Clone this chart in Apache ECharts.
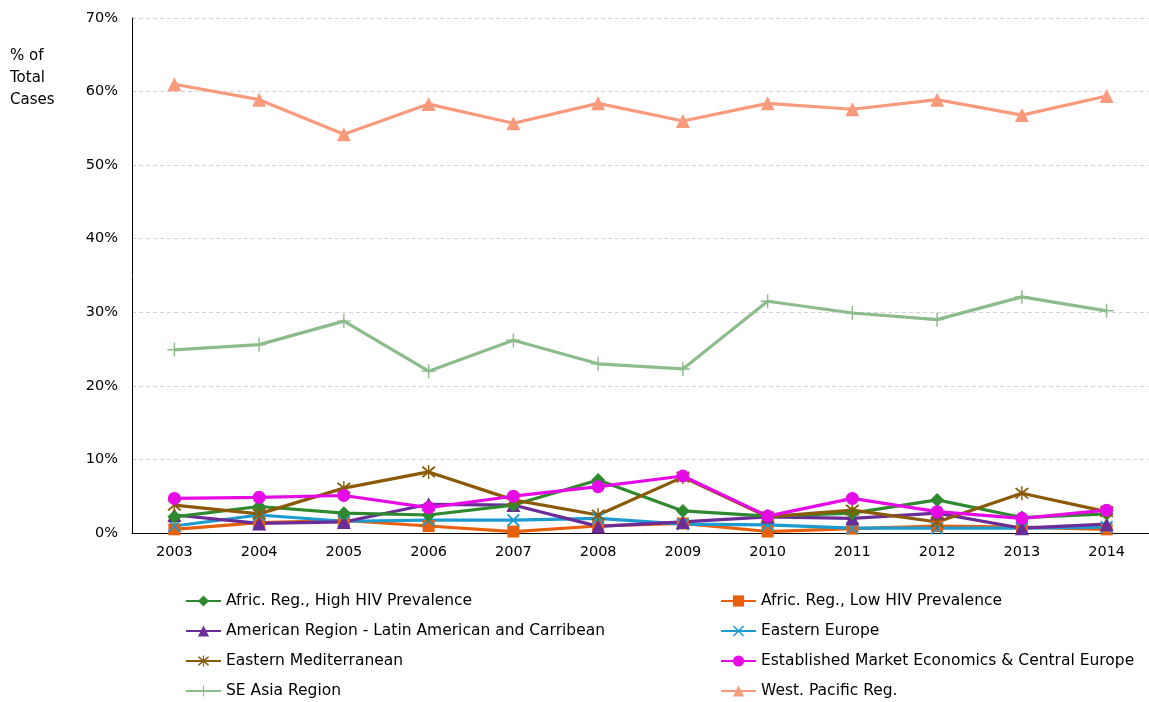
<!DOCTYPE html>
<html>
<head>
<meta charset="utf-8">
<script src="https://cdn.jsdelivr.net/npm/echarts@6/dist/echarts.min.js"></script>
<style>
  html, body { margin: 0; padding: 0; background: #fff; }
  #chart { width: 1149px; height: 702px; }
</style>
</head>
<body>
<div id="chart"></div>
<script>
// Share of total cases by WHO region, 2003-2014 (percent)
const years = ['2003','2004','2005','2006','2007','2008','2009','2010','2011','2012','2013','2014'];

const africHigh   = [2.2, 3.6, 2.7, 2.45, 3.8, 7.2, 3.0, 2.3, 2.7, 4.5, 2.1, 2.6];
const africLow    = [0.5, 1.4, 1.7, 0.95, 0.2, 0.95, 1.3, 0.2, 0.6, 0.95, 0.8, 0.5];
const americas    = [2.45, 1.3, 1.5, 3.9, 3.8, 0.9, 1.5, 2.2, 2.0, 2.7, 0.65, 1.2];
const eastEurope  = [0.95, 2.45, 1.6, 1.75, 1.75, 2.0, 1.2, 1.1, 0.65, 0.65, 0.65, 0.8];
const eastMed     = [3.8, 2.6, 6.1, 8.3, 4.5, 2.45, 7.6, 2.2, 3.1, 1.5, 5.4, 2.9];
const established = [4.7, 4.85, 5.1, 3.45, 5.0, 6.3, 7.75, 2.3, 4.7, 2.9, 2.0, 3.1];
const seAsia      = [24.9, 25.6, 28.8, 22.0, 26.2, 23.0, 22.3, 31.5, 29.9, 29.0, 32.1, 30.2];
const westPacific = [61.0, 58.9, 54.2, 58.3, 55.7, 58.4, 56.0, 58.4, 57.6, 58.9, 56.8, 59.4];

const yTicks = { min: 0, max: 70, interval: 10 };

// marker shapes drawn as filled outlines
const xMark = 'path://M0,1 L1,0 L5,4 L9,0 L10,1 L6,5 L10,9 L9,10 L5,6 L1,10 L0,9 L4,5 Z';
const starMark = 'path://M0,1 L1,0 L5,4 L9,0 L10,1 L6,5 L10,9 L9,10 L5,6 L1,10 L0,9 L4,5 Z M4.5,-1 L5.5,-1 L5.5,11 L4.5,11 Z';
const plusMark = 'path://M4.5,0 H5.5 V4.5 H10 V5.5 H5.5 V10 H4.5 V5.5 H0 V4.5 H4.5 Z';

const FONT = 'DejaVu Sans, Liberation Sans, Arial, sans-serif';

function line(name, data, color, symbol, size) {
  return {
    name, type: 'line', data,
    symbol, symbolSize: size,
    showAllSymbol: true,
    lineStyle: { color, width: 3.2 },
    itemStyle: { color },
    emphasis: { disabled: true },
    animation: false
  };
}

const series = [
  line('West. Pacific Reg.', westPacific, '#fa9a7c', 'triangle', 14),
  line('SE Asia Region', seAsia, '#8cbc8c', plusMark, 14),
  line('Afric. Reg., Low HIV Prevalence', africLow, '#e8600c', 'rect', 12),
  line('Eastern Europe', eastEurope, '#1c9bd0', xMark, 13),
  line('American Region - Latin American and Carribean', americas, '#6a2c96', 'triangle', 14),
  line('Afric. Reg., High HIV Prevalence', africHigh, '#2f8a2f', 'diamond', 14),
  line('Eastern Mediterranean', eastMed, '#8a5a06', starMark, 14),
  line('Established Market Economics & Central Europe', established, '#e60be6', 'circle', 13)
];

const legendText = { fontFamily: FONT, fontSize: 15.5, color: '#000', lineHeight: 14 };
const legendBase = {
  orient: 'vertical', top: 588, height: 120, itemGap: 14,
  itemWidth: 35, itemHeight: 14, textStyle: legendText
};

const chart = echarts.init(document.getElementById('chart'), null, { renderer: 'canvas' });
chart.setOption({
  animation: false,
  backgroundColor: '#fff',
  grid: { left: 132, right: -6, top: 18, bottom: 169, containLabel: false },
  xAxis: {
    type: 'category', data: years, boundaryGap: true,
    axisLine: { lineStyle: { color: '#000', width: 1 } },
    axisTick: { show: false },
    axisLabel: { fontFamily: FONT, fontSize: 14.5, color: '#000', margin: 12 }
  },
  yAxis: {
    type: 'value', min: yTicks.min, max: yTicks.max, interval: yTicks.interval,
    axisLine: { show: true, lineStyle: { color: '#000', width: 1 } },
    axisTick: { show: false },
    axisLabel: { formatter: '{value}%', fontFamily: FONT, fontSize: 14.5, color: '#000', margin: 14 },
    splitLine: { lineStyle: { color: '#d4d4d4', type: [4, 3] } }
  },
  legend: [
    Object.assign({}, legendBase, {
      left: 180,
      data: ['Afric. Reg., High HIV Prevalence', 'American Region - Latin American and Carribean', 'Eastern Mediterranean', 'SE Asia Region']
    }),
    Object.assign({}, legendBase, {
      left: 715,
      data: ['Afric. Reg., Low HIV Prevalence', 'Eastern Europe', 'Established Market Economics & Central Europe', 'West. Pacific Reg.']
    })
  ],
  graphic: [{
    type: 'text', left: 10, top: 45,
    style: { text: '% of\nTotal\nCases', font: '15px ' + FONT, fill: '#000', lineHeight: 22 }
  }],
  series
});
</script>
</body>
</html>
